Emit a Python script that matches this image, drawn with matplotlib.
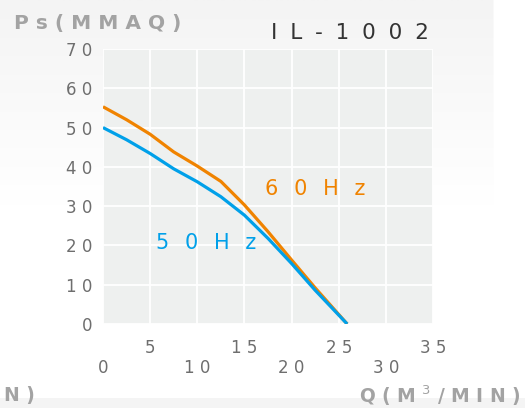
import numpy as np
import matplotlib
matplotlib.use("Agg")
import matplotlib.pyplot as plt
from matplotlib.patches import FancyBboxPatch
from matplotlib.colors import LinearSegmentedColormap

# ---- data ----
q = [0, 2.5, 5, 7.5, 10, 12.5, 15, 17.5, 20, 22.5, 25.9]
p60 = [55.3, 52.0, 48.3, 43.8, 40.2, 36.3, 30.3, 23.5, 16.3, 9.2, 0]
p50 = [50.0, 46.9, 43.4, 39.5, 36.2, 32.4, 27.7, 21.8, 15.4, 8.6, 0]
xticks = [0, 5, 10, 15, 20, 25, 30, 35]
yticks = [0, 10, 20, 30, 40, 50, 60, 70]
title = "IL-1002"
ylabel = "Ps(MMAQ)"
label60 = "60Hz"
label50 = "50Hz"

ORANGE = "#f08300"
BLUE = "#00a0e9"
GRAY = "#6e6e6e"
LGRAY = "#a3a3a3"


def sp(s, gap=" "):
    return gap.join(s)


fig = plt.figure(figsize=(5.25, 4.08), dpi=100)
fig.patch.set_facecolor("white")

# background panel with subtle gradient
bg = fig.add_axes([0, 0, 1, 1], zorder=-5)
bg.set_xlim(0, 1)
bg.set_ylim(0, 1)
bg.axis("off")
grad = np.linspace(0, 1, 256).reshape(-1, 1)
panel = FancyBboxPatch((-0.05, 0.025), 0.99, 1.2,
                       boxstyle="round,pad=0,rounding_size=0.06",
                       transform=bg.transAxes, facecolor="none", edgecolor="none")
bg.add_patch(panel)
cmap = LinearSegmentedColormap.from_list("g", ["#ffffff", "#ffffff", "#f4f4f4"])
im = bg.imshow(grad, extent=[0, 1, 0, 1], aspect="auto", cmap=cmap,
               origin="lower", vmin=0, vmax=1)
im.set_clip_path(panel)
bg.axhspan(0, 0.025, color="#f4f4f4", lw=0)

ax = fig.add_axes([103 / 525, 1 - 324 / 408, 330 / 525, 275 / 408])
ax.set_facecolor("#eef0ef")
ax.set_xlim(0, 35)
ax.set_ylim(0, 70)
ax.set_xticks(xticks)
ax.set_yticks(yticks)
ax.grid(True, color="white", lw=1.3)
ax.set_axisbelow(True)
for s in ax.spines.values():
    s.set_visible(False)

ax.plot(q, p60, color=ORANGE, lw=2.3, solid_capstyle="butt", zorder=3)
ax.plot(q, p50, color=BLUE, lw=2.3, solid_capstyle="butt", zorder=4)

xl = []
for i, t in enumerate(xticks):
    lab = sp(str(t))
    xl.append(lab if i % 2 == 1 else "\n" + lab)
ax.set_xticklabels(xl, linespacing=1.15)
ax.set_yticklabels([sp(str(t)) for t in yticks])
ax.tick_params(axis="both", length=0, colors=GRAY, labelsize=12)
ax.tick_params(axis="x", pad=11)
ax.tick_params(axis="y", pad=8)

GAP = "\u2002\u2005"
fig.text(265 / 525, 1 - 189 / 408, sp(label60, GAP), color=ORANGE, fontsize=15,
         va="center", ha="left")
fig.text(156 / 525, 1 - 243 / 408, sp(label50, GAP), color=BLUE, fontsize=15,
         va="center", ha="left")
fig.text(429 / 525, 1 - 33 / 408, sp(title, "\u2002\u200a"), color="#333333",
         fontsize=15.5, va="center", ha="right")
fig.text(14 / 525, 1 - 23 / 408, sp(ylabel), color=LGRAY, fontsize=14.5,
         va="center", ha="left", fontweight="bold")
fig.text(521 / 525, 1 - 396 / 408, "Q ( M $^3$ / M I N )", color=LGRAY,
         fontsize=13.5, va="center", ha="right", fontweight="bold")
fig.text(4 / 525, 1 - 396 / 408, "N )", color=LGRAY, fontsize=13.5,
         va="center", ha="left", fontweight="bold")

fig.savefig("out.png", dpi=100, facecolor=fig.get_facecolor())
